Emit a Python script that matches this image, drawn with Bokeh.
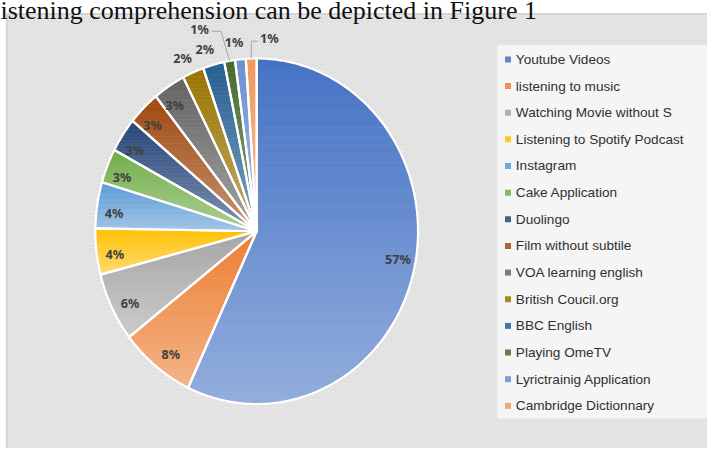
import numpy as np
from bokeh.plotting import figure
from bokeh.models import Range1d
from bokeh.core.properties import value
from bokeh.embed import file_html
from bokeh.resources import INLINE

# ---------------- data ----------------
categories = ["Youtube Videos", "listening to music", "Watching Movie without S",
              "Listening to Spotify Podcast", "Instagram", "Cake Application", "Duolingo",
              "Film without subtile", "VOA learning english", "British Coucil.org",
              "BBC English", "Playing OmeTV", "Lyrictrainig Application", "Cambridge Dictionnary"]
counts = [53, 7, 6, 4, 4, 3, 3, 3, 3, 2, 2, 1, 1, 1]
pct_labels = ["57%", "8%", "6%", "4%", "4%", "3%", "3%", "3%", "3%", "2%", "2%", "1%", "1%", "1%"]
base_colors = ["#4472C4", "#ED7D31", "#A5A5A5", "#FFC000", "#5B9BD5", "#70AD47", "#264478",
               "#9E480E", "#636363", "#997300", "#255E91", "#43682B", "#698ED0", "#F1975A"]
title_text = "istening comprehension can be depicted in Figure 1"

# ---------------- layout (data units = reference pixels) ----------------
W, H = 707, 448
REF_W, REF_H = 723, 464
CX, CY, A, B = 262.0, 239.0, 165.0, 179.0

p = figure(width=W, height=H, output_backend="svg", toolbar_location=None,
           x_range=Range1d(0, REF_W), y_range=Range1d(REF_H, 0),
           min_border=0, outline_line_color=None,
           background_fill_color="white", border_fill_color="white")
p.axis.visible = False
p.grid.visible = False

# chart area with diagonal hatch
p.quad(left=[6.5], right=[760], top=[14], bottom=[500], fill_color="#F9F9F9",
       hatch_pattern="\\", hatch_color="#DADADA", hatch_scale=4, hatch_weight=1.4,
       line_color="#D4D4D4", line_width=2)
# legend box
p.quad(left=[508], right=[760], top=[46], bottom=[433], fill_color="white",
       fill_alpha=0.65, line_color=None)

# title text (cut at top, as in the reference)
p.text(x=[0], y=[10], text=[title_text], text_font=value("Liberation Serif"),
       text_font_size="26px", text_color="#111111", text_baseline="alphabetic",
       text_align="left")


def hex2rgb(h):
    h = h.lstrip("#")
    return np.array([int(h[i:i + 2], 16) for i in (0, 2, 4)], dtype=float)


def mix(h, t):
    c = hex2rgb(h)
    c = c + (255 - c) * t
    return "#%02x%02x%02x" % tuple(int(round(v)) for v in c)


def pt(th_deg, r=1.0):
    th = np.radians(th_deg)
    return CX + A * r * np.sin(th), CY - B * r * np.cos(th)


def clip(poly, yv, keep_below):
    out = []
    n = len(poly)
    for i in range(n):
        cur, prv = poly[i], poly[i - 1]
        cin = (cur[1] >= yv) if keep_below else (cur[1] <= yv)
        pin = (prv[1] >= yv) if keep_below else (prv[1] <= yv)
        if cin:
            if not pin:
                t = (yv - prv[1]) / (cur[1] - prv[1])
                out.append((prv[0] + t * (cur[0] - prv[0]), yv))
            out.append(cur)
        elif pin:
            t = (yv - prv[1]) / (cur[1] - prv[1])
            out.append((prv[0] + t * (cur[0] - prv[0]), yv))
    return out


total = float(sum(counts))
edges = np.concatenate([[0.0], np.cumsum(counts)]) / total * 360.0

band_xs, band_ys, band_cols = [], [], []
out_xs, out_ys = [], []
for i, c in enumerate(counts):
    a0, a1 = edges[i], edges[i + 1]
    n = max(3, int((a1 - a0) / 1.0) + 2)
    angs = np.linspace(a0, a1, n)
    poly = [(CX, CY)] + [pt(a) for a in angs]
    ys = [q[1] for q in poly]
    ymin, ymax = min(ys), max(ys)
    nb = 40
    for k in range(nb):
        y0 = ymin + (ymax - ymin) * k / nb
        y1 = ymin + (ymax - ymin) * (k + 1) / nb
        pp = clip(clip(poly, y0, True), y1, False)
        if len(pp) < 3:
            continue
        band_xs.append([q[0] for q in pp])
        band_ys.append([q[1] for q in pp])
        band_cols.append(mix(base_colors[i], 0.42 * (k + 0.5) / nb))
    out_xs.append([q[0] for q in poly])
    out_ys.append([q[1] for q in poly])

p.patches(xs=band_xs, ys=band_ys, fill_color=band_cols, line_color=band_cols, line_width=0.6)
p.patches(xs=out_xs, ys=out_ys, fill_alpha=0, line_color="white", line_width=2.2,
          line_join="round")

# data labels
mids = (edges[:-1] + edges[1:]) / 2
lab_x, lab_y = [], []
lead_xs, lead_ys = [], []
offsets = {11: (-28, -15), 13: (19, -3)}
for i, m in enumerate(mids):
    r = 0.89 if counts[i] >= 3 else 1.10
    lx, ly = pt(m - 2.0 if counts[i] >= 3 else m - 1.5, r)
    if i in offsets:
        lx, ly = pt(m, 1.10)
        lx += offsets[i][0]
        ly += offsets[i][1]
        px, py = pt(m, 1.0)
        if lx < px:
            sx = lx + 12
            lead_xs.append([sx, sx + 10, px])
            lead_ys.append([ly + 2, ly + 2, py])
        else:
            sx = lx - 12
            lead_xs.append([sx, px, px])
            lead_ys.append([ly + 3, ly + 3, py])
    lab_x.append(lx)
    lab_y.append(ly)

p.multi_line(xs=lead_xs, ys=lead_ys, line_color="#A6A6A6", line_width=1)
p.text(x=lab_x, y=lab_y, text=pct_labels, text_font=value("Noto Sans"),
       text_font_style="bold", text_font_size="12.6px", text_color="#404040",
       text_align="center", text_baseline="middle")

# legend
LX, LY0, LDY = 519, 61, 27.6
leg_y = [LY0 + i * LDY for i in range(len(categories))]
p.scatter(x=[LX] * len(categories), y=leg_y, marker="square", size=6,
          fill_color=[mix(c, 0.15) for c in base_colors], line_color=None)
p.text(x=[LX + 8] * len(categories), y=leg_y, text=categories,
       text_font=value("Liberation Sans"), text_font_size="13.6px", text_color="#303030",
       text_align="left", text_baseline="middle")

open("out.html", "w").write(file_html(p, INLINE))
